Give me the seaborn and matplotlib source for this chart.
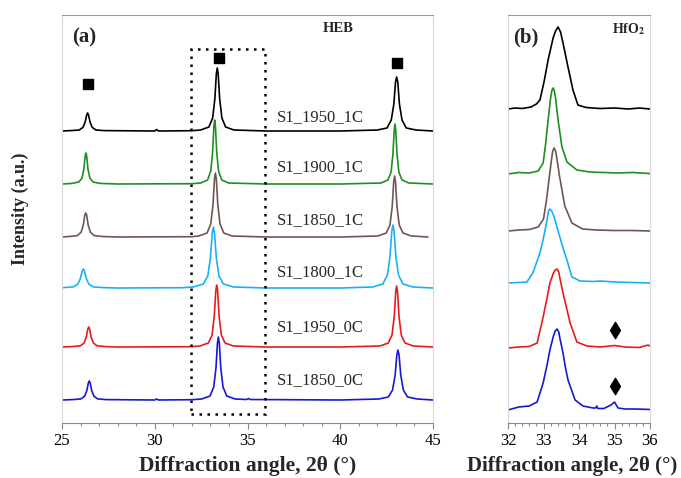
import matplotlib
matplotlib.use("Agg")
import matplotlib.pyplot as plt
from matplotlib.patches import Rectangle
from matplotlib.ticker import MultipleLocator
import numpy as np
import pandas as pd
import seaborn as sns

# sample names (top to bottom) and colours
samples = ['S1_1950_1C', 'S1_1900_1C', 'S1_1850_1C', 'S1_1800_1C', 'S1_1950_0C', 'S1_1850_0C']
colors = ['#000000', '#1f8f1f', '#6e5753', '#1cb0f0', '#e81a1c', '#1717d6']

# vertical stacking offsets (a.u.)
offsets_a = [292, 239, 186, 135, 76, 23]
offsets_b = [314, 249, 192, 140, 75, 13]

# ---- panel (a): HEB, 25-45 deg ----
x_a = {
    'S1_1950_1C': [25.0, 25.48, 25.93, 26.13, 26.25, 26.33, 26.38, 26.43, 26.51, 26.63, 26.83, 27.28,
                   30.0, 30.1, 30.2, 32.0,
                   32.47, 32.92, 33.12, 33.24, 33.32, 33.37, 33.42, 33.5, 33.62, 33.82, 34.27,
                   36.0, 40.0,
                   42.0, 42.52, 42.75, 42.89, 42.98, 43.04, 43.1, 43.19, 43.33, 43.56, 44.08, 45.0],
    'S1_1900_1C': [25.0, 25.54, 25.91, 26.08, 26.18, 26.25, 26.29, 26.33, 26.40, 26.50, 26.67, 27.04,
                   28.0, 32.0,
                   32.48, 32.85, 33.02, 33.12, 33.19, 33.23, 33.27, 33.34, 33.44, 33.61, 33.98,
                   36.0, 40.0,
                   42.2, 42.57, 42.74, 42.84, 42.91, 42.95, 42.99, 43.06, 43.16, 43.33, 43.7, 45.0],
    'S1_1850_1C': [25.0, 25.38, 25.83, 26.03, 26.15, 26.23, 26.28, 26.33, 26.41, 26.53, 26.73, 27.18,
                   28.0, 32.0,
                   32.37, 32.82, 33.02, 33.14, 33.22, 33.27, 33.32, 33.40, 33.52, 33.72, 34.17,
                   36.0, 40.0,
                   42.03, 42.48, 42.68, 42.80, 42.88, 42.93, 42.98, 43.06, 43.18, 43.38, 43.83, 44.73],
    'S1_1800_1C': [25.0, 25.07, 25.61, 25.85, 25.99, 26.09, 26.15, 26.21, 26.31, 26.45, 26.69, 27.23,
                   28.0, 31.5,
                   32.08, 32.62, 32.86, 33.0, 33.1, 33.16, 33.22, 33.32, 33.46, 33.70, 34.24,
                   36.0, 40.0,
                   41.76, 42.3, 42.54, 42.68, 42.78, 42.84, 42.9, 43.0, 43.14, 43.38, 43.92, 45.0],
    'S1_1950_0C': [25.0, 25.54, 25.99, 26.19, 26.31, 26.39, 26.44, 26.49, 26.57, 26.69, 26.89, 27.34,
                   28.0, 32.0,
                   32.44, 32.89, 33.09, 33.21, 33.29, 33.34, 33.39, 33.47, 33.59, 33.79, 34.24,
                   36.0, 40.0,
                   42.14, 42.59, 42.79, 42.91, 42.99, 43.04, 43.09, 43.17, 43.29, 43.49, 43.94, 45.0],
    'S1_1850_0C': [25.0, 25.57, 26.02, 26.22, 26.34, 26.42, 26.47, 26.52, 26.60, 26.72, 26.92, 27.37,
                   30.0, 30.1, 30.2, 32.0,
                   32.53, 32.98, 33.18, 33.30, 33.38, 33.43, 33.48, 33.56, 33.68, 33.88, 34.33,
                   34.95, 35.05, 35.15, 40.0,
                   42.07, 42.59, 42.82, 42.96, 43.05, 43.11, 43.17, 43.26, 43.40, 43.63, 44.15, 45.0],
}
y_a = {
    'S1_1950_1C': [0, 0.4, 1, 3.6, 9, 16, 18, 16, 9, 3.6, 1, 0.4,
                   0, 1.5, 0, 0.3,
                   1, 4, 13, 32, 57, 63, 57, 32, 13, 4, 1,
                   0, 0,
                   1, 3, 11, 27, 49, 54, 49, 27, 11, 3, 1, 0],
    'S1_1900_1C': [0, 0.6, 2, 6, 15, 28, 31, 28, 15, 6, 2, 0.6,
                   0, 0.3,
                   1, 4, 13, 32, 58, 64, 58, 32, 13, 4, 1,
                   0, 0,
                   1, 4, 12, 30, 54, 60, 54, 30, 12, 4, 1, 0],
    'S1_1850_1C': [0, 0.5, 1.4, 4.8, 12, 22, 24, 22, 12, 4.8, 1.4, 0.5,
                   0, 0.3,
                   1, 4, 13, 32, 58, 64, 58, 32, 13, 4, 1,
                   0, 0,
                   1, 4, 12, 30, 55, 61, 55, 30, 12, 4, 1, 0],
    'S1_1800_1C': [0, 0.4, 1.1, 3.8, 9.5, 17, 19, 17, 9.5, 3.8, 1.1, 0.4,
                   0, 0.3,
                   1, 4, 12, 30, 55, 61, 55, 30, 12, 4, 1,
                   0, 0,
                   1, 4, 13, 31, 57, 63, 57, 31, 13, 4, 1, 0],
    'S1_1950_0C': [0, 0.4, 1.2, 4, 10, 18, 20, 18, 10, 4, 1.2, 0.4,
                   0, 0.3,
                   1, 4, 12, 31, 56, 62, 56, 31, 12, 4, 1,
                   0, 0,
                   1, 4, 12, 30, 55, 61, 55, 30, 12, 4, 1, 0],
    'S1_1850_0C': [0, 0.4, 1.1, 3.8, 9.5, 17, 19, 17, 9.5, 3.8, 1.1, 0.4,
                   0, 1, 0, 0.3,
                   1, 4, 13, 32, 57, 63, 57, 32, 13, 4, 1,
                   0.5, 1.5, 0.5, 0,
                   1, 3, 10, 25, 45, 50, 45, 25, 10, 3, 1, 0],
}

# ---- panel (b): HfO2, 32-36 deg ----
x_b = {
    'S1_1950_1C': [32.0, 32.2, 32.4, 32.65, 32.8, 32.9, 33.02, 33.13, 33.27, 33.34, 33.41, 33.48, 33.55,
                   33.69, 33.83, 33.97, 34.2, 34.6, 35.0, 35.4, 35.7, 36.0],
    'S1_1900_1C': [32.0, 32.3, 32.6, 32.85, 32.99, 33.06, 33.13, 33.2, 33.24, 33.27, 33.30, 33.34, 33.41,
                   33.52, 33.66, 33.94, 34.3, 34.7, 35.1, 35.5, 36.0],
    'S1_1850_1C': [32.0, 32.3, 32.6, 32.85, 33.0, 33.08, 33.15, 33.22, 33.26, 33.3, 33.34, 33.38, 33.45,
                   33.6, 33.8, 34.1, 34.5, 35.0, 35.5, 36.0],
    'S1_1800_1C': [32.0, 32.3, 32.53, 32.7, 32.9, 33.0, 33.1, 33.14, 33.18, 33.23, 33.3, 33.46, 33.56,
                   33.66, 33.8, 34.03, 34.4, 34.6, 35.0, 35.5, 36.0],
    'S1_1950_0C': [32.0, 32.3, 32.6, 32.82, 32.99, 33.1, 33.18, 33.28, 33.33, 33.38, 33.43, 33.46, 33.55,
                   33.65, 33.75, 33.94, 34.22, 34.6, 35.0, 35.3, 35.7, 35.95, 36.0],
    'S1_1850_0C': [32.0, 32.3, 32.6, 32.82, 32.99, 33.1, 33.18, 33.28, 33.33, 33.38, 33.43, 33.46, 33.55,
                   33.62, 33.69, 33.89, 34.11, 34.4, 34.47, 34.5, 34.53, 34.7, 34.9, 35.0, 35.1, 35.3,
                   35.6, 36.0],
}
y_b = {
    'S1_1950_1C': [0, 1, 0.5, 2, 5, 9, 28, 49, 71, 78, 82, 77, 66, 42, 19, 4, 1.5, 0.5, 1, 0, 1, 0],
    'S1_1900_1C': [0, 1.5, 1, 3, 11, 30, 54, 76, 84, 86, 84, 76, 54, 27, 12, 4, 2, 1.5, 1, 1.5, 0.5],
    'S1_1850_1C': [0, 1, 1.5, 4, 12, 30, 50, 70, 80, 83, 80, 72, 55, 25, 8, 2, 1, 0.5, 0.5, 0],
    'S1_1800_1C': [0, 0.5, 1, 10, 30, 45, 63, 72, 74, 72, 66, 46, 34, 23, 6, 2, 1.5, 2, 1, 0.5, 0],
    'S1_1950_0C': [0, 1, 1.5, 5, 31, 50, 65, 75, 78, 79, 76, 70, 55, 40, 25, 6, 2, 1, 2.5, 1, 0.5, 3, 2],
    'S1_1850_0C': [0, 3, 4, 8, 27, 45, 60, 74, 79, 81, 78, 72, 57, 42, 30, 10, 4, 2, 2, 4, 1.5, 1.5, 5,
                   8, 2, 1, 1, 0.5],
}

# HEB reflections (squares) and HfO2 second phase (diamonds)
square_x = [26.4, 33.46, 43.06]
square_y = [339, 365, 360]
diamond_x = [35.0, 35.0]
diamond_y = [93, 37]
label_y = [306, 256, 203, 151, 96, 43]


def long_table(xs, ys, offs):
    rows = []
    for s, off in zip(samples, offs):
        d = pd.DataFrame({'angle': xs[s], 'intensity': np.array(ys[s]) + off})
        d['sample'] = s
        rows.append(d)
    return pd.concat(rows, ignore_index=True)


df_a = long_table(x_a, y_a, offsets_a)
df_b = long_table(x_b, y_b, offsets_b)

sns.set_style('white')
plt.rcParams['font.family'] = ['Liberation Serif', 'DejaVu Serif']
plt.rcParams['mathtext.fontset'] = 'stix'

fig = plt.figure(figsize=(6.81, 4.78), dpi=100)
ax_a = fig.add_axes([62/681, 55/478, 371/681, 408/478])
ax_b = fig.add_axes([508/681, 55/478, 142/681, 408/478])
pal = dict(zip(samples, colors))

for ax, df in [(ax_a, df_a), (ax_b, df_b)]:
    sns.lineplot(data=df, x='angle', y='intensity', hue='sample', palette=pal,
                 units='sample', estimator=None, sort=False, legend=False,
                 linewidth=1.2, ax=ax)
    ax.set_ylim(0, 408)
    ax.set_yticks([])
    ax.set_ylabel('')
    ax.spines['top'].set_color('#9a9a9a')
    ax.spines['left'].set_color('#d8d8d8')
    ax.spines['right'].set_color('#d8d8d8')
    ax.spines['bottom'].set_color('#8a8a8a')
    ax.tick_params(axis='x', which='both', direction='out', bottom=True, colors='#8a8a8a',
                   labelcolor='black', labelsize=12)
    ax.tick_params(axis='x', which='major', length=4, width=0.8)
    ax.tick_params(axis='x', which='minor', length=2.5, width=0.8)

ax_a.set_xlabel('Diffraction angle, 2θ (°)', fontsize=15.5, fontweight='bold', labelpad=5)
ax_b.set_xlabel('Diffraction angle, 2θ (°)', fontsize=15, fontweight='bold', labelpad=5)
ax_b.xaxis.set_label_coords(0.45, -0.082)

ax_a.set_xlim(25, 45)
ax_a.xaxis.set_major_locator(MultipleLocator(5))
ax_a.xaxis.set_minor_locator(MultipleLocator(1))
ax_b.set_xlim(32, 36)
ax_b.xaxis.set_major_locator(MultipleLocator(1))
ax_b.xaxis.set_minor_locator(MultipleLocator(0.2))

fig.text(20/681, 0.563, 'Intensity (a.u.)', rotation=90, fontsize=13, fontweight='bold',
         ha='center', va='center')

ax_a.scatter(square_x, square_y, marker='s', s=45, color='black', zorder=5)
ax_b.scatter(diamond_x, diamond_y, marker='d', s=70, color='black', zorder=5)

ax_a.add_patch(Rectangle((31.95, 9), 4.0, 365, fill=False, edgecolor='black',
                         linestyle=(0, (1, 2.2)), linewidth=1.8, zorder=4))

for s, yy in zip(samples, label_y):
    ax_a.text(36.6, yy, s, fontsize=12, ha='left', va='center')

ax_a.text(0.027, 0.944, '(a)', transform=ax_a.transAxes, fontsize=15, fontweight='bold',
          ha='left', va='center')
ax_a.text(0.744, 0.968, 'HEB', transform=ax_a.transAxes, fontsize=10.5, fontweight='bold',
          ha='center', va='center')
ax_b.text(0.035, 0.944, '(b)', transform=ax_b.transAxes, fontsize=15, fontweight='bold',
          ha='left', va='center')
ax_b.text(0.965, 0.965, r'HfO$_\mathbf{2}$', transform=ax_b.transAxes, fontsize=10,
          fontweight='bold', ha='right', va='center')

fig.savefig('out.png', dpi=100)
